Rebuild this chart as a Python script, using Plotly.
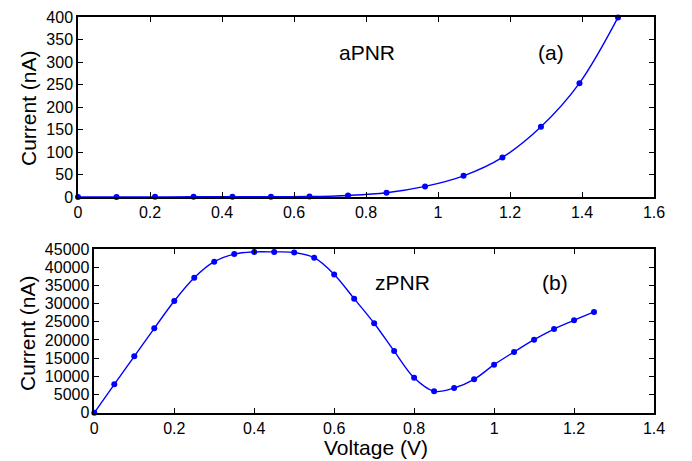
import plotly.graph_objects as go

# Panel (a): aPNR
volt_a = [0, 0.107, 0.214, 0.321, 0.429, 0.536, 0.643, 0.75, 0.857, 0.964, 1.071, 1.179, 1.286, 1.393, 1.5]
curr_a = [0, 0.2, 0.3, 0.4, 0.5, 0.6, 1.0, 3.5, 9.5, 23.5, 47, 88, 156, 253, 399]

# Panel (b): zPNR
volt_b = [0, 0.05, 0.1, 0.15, 0.2, 0.25, 0.3, 0.35, 0.4, 0.45, 0.5, 0.55, 0.6, 0.65,
          0.7, 0.75, 0.8, 0.85, 0.9, 0.95, 1.0, 1.05, 1.1, 1.15, 1.2, 1.25]
curr_b = [0, 7800, 15500, 23200, 30700, 37100, 41500, 43600, 44200, 44200, 44050, 42600,
          38000, 31350, 24600, 16950, 9600, 5880, 6800, 9180, 13200, 16700, 20070, 23000,
          25400, 27700]

BLUE = "rgb(0,0,255)"
FONT = "Liberation Sans, Arial, Helvetica, sans-serif"

fig = go.Figure()
fig.add_trace(go.Scatter(x=volt_a, y=curr_a, mode="lines+markers", line=dict(color=BLUE, width=1.4, shape="spline"),
                         marker=dict(color=BLUE, size=6), cliponaxis=False, xaxis="x", yaxis="y", showlegend=False))
fig.add_trace(go.Scatter(x=volt_b, y=curr_b, mode="lines+markers", line=dict(color=BLUE, width=1.4, shape="spline"),
                         marker=dict(color=BLUE, size=6), cliponaxis=False, xaxis="x2", yaxis="y2", showlegend=False))

# page body has an 8px margin, so the figure is 8px smaller and all positions are offset
OFF = 8
W, H = 692 - OFF, 461 - OFF
def px(x):
    return (x - OFF) / W
def py(y):
    return 1 - (y - OFF) / H

axis_common = dict(showline=True, linecolor="black", linewidth=1.5, mirror="ticks", ticks="inside",
                   ticklen=5, tickwidth=1, tickcolor="black", showgrid=False, zeroline=False,
                   automargin=False, tickformat="d",
                   tickfont=dict(family=FONT, size=16, color="black"))
xcommon = dict(axis_common, tickformat="")

TFONT = dict(family=FONT, size=21, color="black")
AFONT = dict(family=FONT, size=21, color="black")

def ann(text, x, y, font, angle=0):
    return dict(text=text, x=px(x), y=py(y), xref="paper", yref="paper", showarrow=False,
                xanchor="center", yanchor="middle", textangle=angle, font=font)

fig.update_layout(
    width=W, height=H, paper_bgcolor="white", plot_bgcolor="white",
    margin=dict(l=0, r=0, t=0, b=0),
    xaxis=dict(domain=[px(78), px(654)], range=[0, 1.6], dtick=0.2, anchor="y", **xcommon),
    yaxis=dict(domain=[py(197), py(17)], range=[0, 400], dtick=50, anchor="x", **axis_common),
    xaxis2=dict(domain=[px(94.3), px(654)], range=[0, 1.4], dtick=0.2, anchor="y2", **xcommon),
    yaxis2=dict(domain=[py(412.7), py(249)], range=[0, 45000], dtick=5000, anchor="x2", **axis_common),
    annotations=[
        ann("Current (nA)", 28, 108, TFONT, -90),
        ann("Current (nA)", 27, 333, TFONT, -90),
        ann("Voltage (V)", 376, 447, TFONT),
        ann("aPNR", 367, 53, AFONT),
        ann("(a)", 551, 53, AFONT),
        ann("zPNR", 402, 282, AFONT),
        ann("(b)", 555, 282, AFONT),
    ],
)

fig.write_html("out.html")
